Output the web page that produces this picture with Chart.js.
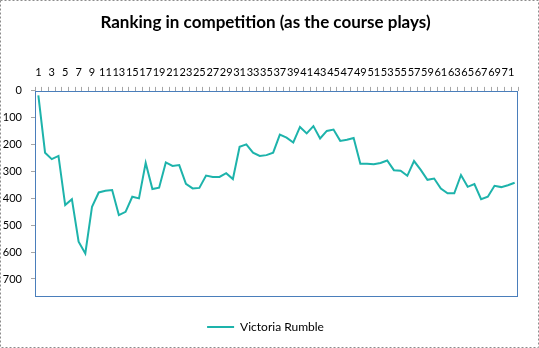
<!DOCTYPE html>
<html>
<head>
<meta charset="utf-8">
<script src="https://cdn.jsdelivr.net/npm/chart.js@4.4.0/dist/chart.umd.min.js"></script>
<style>
    html, body { margin: 0; padding: 0; background: #fff; }
    #wrap { width: 539px; height: 348px; }
</style>
</head>
<body>
<div id="wrap"><canvas id="chart" width="539" height="348"></canvas></div>
<script>
// Hole numbers along the course
const holes = [
    '1', '2', '3', '4', '5', '6', '7', '8', '9', '10', '11', '12',
    '13', '14', '15', '16', '17', '18', '19', '20', '21', '22', '23', '24',
    '25', '26', '27', '28', '29', '30', '31', '32', '33', '34', '35', '36',
    '37', '38', '39', '40', '41', '42', '43', '44', '45', '46', '47', '48',
    '49', '50', '51', '52', '53', '54', '55', '56', '57', '58', '59', '60',
    '61', '62', '63', '64', '65', '66', '67', '68', '69', '70', '71', '72'
];

// Ranking after each hole
const victoriaRumble = [
    17, 230, 254, 242, 425, 403, 561, 605, 431, 378, 372, 369,
    462, 450, 394, 400, 268, 365, 360, 266, 279, 276, 346, 363,
    361, 315, 320, 320, 306, 328, 208, 199, 230, 242, 239, 230,
    163, 174, 192, 134, 158, 131, 177, 149, 144, 186, 182, 175,
    271, 271, 273, 268, 259, 295, 297, 316, 261, 294, 331, 326,
    363, 381, 381, 313, 357, 347, 403, 394, 353, 358, 351, 342
];

const rankTicks = [0, 100, 200, 300, 400, 500, 600, 700];
const rankMax = 767;

Chart.defaults.font.family = 'Lato, sans-serif';
Chart.defaults.color = '#000';

// White background, dashed outer border and the blue plot frame
const framePlugin = {
    id: 'frame',
    beforeDraw(chart) {
        const ctx = chart.ctx;
        ctx.save();
        ctx.fillStyle = '#fff';
        ctx.fillRect(0, 0, chart.width, chart.height);
        ctx.strokeStyle = '#8c8c8c';
        ctx.lineWidth = 1;
        ctx.setLineDash([2, 2]);
        ctx.strokeRect(0.5, 0.5, chart.width - 1, chart.height - 1);
        ctx.restore();
    },
    beforeDatasetsDraw(chart) {
        const a = chart.chartArea;
        const ctx = chart.ctx;
        ctx.save();
        ctx.strokeStyle = '#4a7ebb';
        ctx.lineWidth = 1;
        const l = Math.round(a.left) + 0.5;
        const t = Math.round(a.top) + 0.5;
        const r = Math.round(a.right) - 0.5;
        const b = Math.round(a.bottom) - 0.5;
        ctx.strokeRect(l, t, r - l, b - t);
        ctx.restore();
    }
};

const ctx = document.getElementById('chart').getContext('2d');
new Chart(ctx, {
    type: 'line',
    data: {
        labels: holes,
        datasets: [{
            label: 'Victoria Rumble',
            data: victoriaRumble,
            borderColor: '#1db3ab',
            backgroundColor: '#1db3ab',
            borderWidth: 2,
            pointRadius: 0,
            tension: 0,
            yAxisID: 'y'
        }]
    },
    options: {
        responsive: false,
        animation: false,
        layout: {
            padding: { left: 0, right: 8, top: 0, bottom: 5 }
        },
        scales: {
            x: {
                position: 'top',
                offset: true,
                grid: {
                    offset: true,
                    drawOnChartArea: false,
                    drawTicks: true,
                    tickLength: 4,
                    color: '#a6a6a6'
                },
                border: { display: false },
                ticks: {
                    autoSkip: false,
                    maxRotation: 0,
                    padding: 8,
                    color: '#000',
                    font: { size: 11 },
                    callback: function(value, index) {
                        return index % 2 === 0 ? holes[index] : '';
                    }
                },
                afterFit: function(scale) {
                    scale.height = 51.5;
                }
            },
            y: {
                reverse: true,
                min: 0,
                max: rankMax,
                grid: {
                    drawOnChartArea: false,
                    drawTicks: true,
                    tickLength: 4,
                    color: '#a6a6a6'
                },
                border: { display: false },
                ticks: {
                    stepSize: 100,
                    includeBounds: false,
                    padding: 9,
                    color: '#000',
                    font: { size: 11 },
                    callback: function(value) {
                        return rankTicks.includes(value) ? value : '';
                    }
                },
                afterFit: function(scale) {
                    scale.width = 35;
                }
            },
            y2: {
                position: 'right',
                display: true,
                grid: { display: false },
                border: { display: false },
                ticks: { display: false },
                afterFit: function(scale) {
                    scale.width = 13;
                }
            }
        },
        plugins: {
            title: {
                display: true,
                text: 'Ranking in competition (as the course plays)',
                color: '#000',
                font: { size: 17, weight: 'bold' },
                padding: { top: 12, bottom: 7 }
            },
            legend: {
                display: true,
                position: 'bottom',
                labels: {
                    usePointStyle: true,
                    pointStyle: 'line',
                    pointStyleWidth: 27,
                    padding: 24,
                    color: '#000',
                    font: { size: 12 }
                }
            },
            tooltip: { enabled: false }
        }
    },
    plugins: [framePlugin]
});
</script>
</body>
</html>
